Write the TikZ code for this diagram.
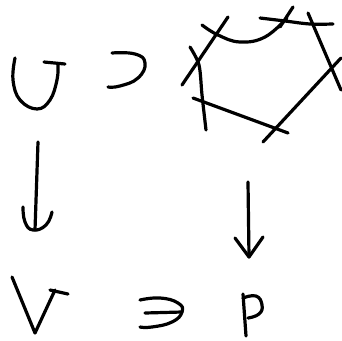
\documentclass[tikz,border=0pt]{standalone}
\begin{document}
\begin{tikzpicture}[x=1pt,y=-1pt,
  ink/.style={line width=3.2pt,line cap=round,line join=round,black}]
\useasboundingbox[fill=white] (0,0) rectangle (342,340);
% U
\draw[ink] plot[smooth,tension=0.7] coordinates {(15,58) (13,80) (20,100) (37,109) (50,100) (57,80) (58,65)};
\draw[ink] (44,62) -- (65,64);
% supset
\draw[ink] plot[smooth,tension=0.8] coordinates {(112,53) (135,54) (145,63) (138,78) (120,86) (108,87)};
% polygon
\draw[ink] (182,85) -- (228,17);
\draw[ink] plot[smooth,tension=0.7] coordinates {(202,25) (218,35) (240,42) (265,37) (287,18)};
\draw[ink] plot[smooth,tension=0.6] coordinates {(260,18) (285,21) (310,24) (333,24)};
\draw[ink] (293,7) -- (280,27);
\draw[ink] (308,13) -- (341,90);
\draw[ink] (341,58) -- (263,142);
\draw[ink] (193,98) -- (288,133);
\draw[ink] plot[smooth,tension=0.5] coordinates {(190,47) (199,65) (202,95) (206,130)};
% left arrow
\draw[ink] (38,142) -- (35,230);
\draw[ink] plot[smooth,tension=0.8] coordinates {(23,207) (25,222) (33,230) (46,225) (52,212)};
% right arrow
\draw[ink] (248,182) -- (249,257);
\draw[ink] (235,238) -- (249,257) -- (263,237);
% V
\draw[ink] (12,277) -- (35,333) -- (55,290);
\draw[ink] (50,290) -- (68,294);
% ni
\draw[ink] plot[smooth,tension=0.8] coordinates {(140,300) (160,298) (178,303) (182,312) (172,322) (152,327) (140,327)};
\draw[ink] (145,313) -- (182,312);
% P
\draw[ink] (243,294) -- (246,336);
\draw[ink] plot[smooth,tension=0.8] coordinates {(243,298) (256,296) (262,305) (259,314) (248,318)};
\end{tikzpicture}
\end{document}
